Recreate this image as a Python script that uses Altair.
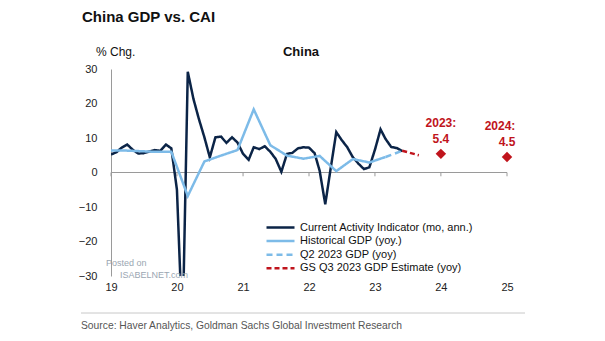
import altair as alt
import pandas as pd

# ---------------- data ----------------
series_names = [
    "Current Activity Indicator (mo, ann.)",
    "Historical GDP (yoy.)",
    "Q2 2023 GDP (yoy)",
    "GS Q3 2023 GDP Estimate (yoy)",
]
series_colors = ["#0b2447", "#7dbbe8", "#7dbbe8", "#c0141c"]
series_dashes = [[1, 0], [1, 0], [6, 4], [5, 3]]

cai_dates = pd.date_range("2019-01-01", "2023-06-01", freq="MS").strftime("%Y-%m-%d").tolist()
cai_values = [
    5.2, 5.9, 7.2, 8.1, 6.6, 5.5, 5.6, 6.1, 6.5, 6.3, 8.1, 7.0,      # 2019
    -5.0, -47.0, 29.2, 21.4, 15.6, 10.2, 4.4, 10.2, 10.4, 8.6, 10.2, 8.7,  # 2020
    5.4, 3.7, 7.3, 6.8, 7.6, 6.0, 3.9, 0.2, 5.4, 5.7, 7.0, 7.3,      # 2021
    7.2, 5.6, 0.5, -9.2, 1.2, 11.7, 9.4, 7.3, 4.4, 2.6, 1.0, 1.5,    # 2022
    6.6, 12.5, 9.7, 7.4, 7.1, 6.2,                                   # 2023
]

gdp_dates = ["2018-12-01", "2019-03-01", "2019-06-01", "2019-09-01", "2019-12-01",
             "2020-03-01", "2020-06-01", "2020-09-01", "2020-12-01",
             "2021-03-01", "2021-06-01", "2021-09-01", "2021-12-01",
             "2022-03-01", "2022-06-01", "2022-09-01", "2022-12-01", "2023-03-01"]
gdp_values = [6.4, 6.4, 6.2, 6.0, 6.0, -6.8, 3.2, 4.9, 6.5, 18.3, 7.9, 4.9, 4.0,
              4.8, 0.4, 3.9, 2.9, 4.5]

q2_dates = ["2023-03-01", "2023-06-01"]
q2_values = [4.5, 6.3]

gs_dates = ["2023-06-01", "2023-09-01"]
gs_values = [6.3, 5.0]

annual_dates = ["2024-01-01", "2025-01-01"]
annual_values = [5.4, 4.5]
annual_years = ["2023:", "2024:"]
annual_labels = ["5.4", "4.5"]

year_ticks = ["2019-01-01", "2020-01-01", "2021-01-01", "2022-01-01",
              "2023-01-01", "2024-01-01", "2025-01-01"]
y_ticks = [-30, -20, -10, 0, 10, 20, 30]

# ---------------- tables ----------------
lines_df = pd.concat([
    pd.DataFrame({"date": cai_dates, "value": cai_values, "series": series_names[0]}),
    pd.DataFrame({"date": gdp_dates, "value": gdp_values, "series": series_names[1]}),
    pd.DataFrame({"date": q2_dates, "value": q2_values, "series": series_names[2]}),
    pd.DataFrame({"date": gs_dates, "value": gs_values, "series": series_names[3]}),
], ignore_index=True)

ann_df = pd.DataFrame({"date": annual_dates, "value": annual_values,
                       "year": annual_years, "label": annual_labels})
ticks_df = pd.DataFrame({"date": year_ticks})

W, H = 396, 207
FONT = "Liberation Sans, Arial, sans-serif"
RED = "#c0141c"

x_scale = alt.Scale(domain=[alt.DateTime(year=2019, month=1, date=1),
                            alt.DateTime(year=2025, month=1, date=1)])
y_scale = alt.Scale(domain=[-30, 30], nice=False, zero=False)

x_axis = alt.Axis(values=[alt.DateTime(year=int(d[:4]), month=1, date=1) for d in year_ticks],
                  format="%y", domain=False, ticks=False, grid=False,
                  labelPadding=5, labelFlush=False, labelOverlap=False,
                  labelFont=FONT, labelFontSize=11, labelColor="#222", title=None)
y_axis = alt.Axis(values=y_ticks, domain=True, domainColor="#9a9a9a",
                  ticks=False, tickSize=0, grid=False, labelPadding=14,
                  labelFlush=False, labelOverlap=False, labelFont=FONT,
                  labelFontSize=11, labelColor="#222", title=None)

legend = alt.Legend(
    orient="none", legendX=163, legendY=152, title=None,
    symbolType="M-2.8,0H2.8", symbolSize=100, symbolStrokeWidth=2.5,
    labelFont=FONT, labelFontSize=11, labelColor="#111",
    labelOffset=13, rowPadding=1.6, padding=0, labelLimit=400,
)

x_enc = alt.X("date:T", scale=x_scale, axis=x_axis)
y_enc = alt.Y("value:Q", scale=y_scale, axis=y_axis)

color_enc = alt.Color("series:N", scale=alt.Scale(domain=series_names, range=series_colors),
                      legend=legend, sort=series_names)
dash_enc = alt.StrokeDash("series:N", scale=alt.Scale(domain=series_names, range=series_dashes),
                          legend=legend, sort=series_names)

base_line = alt.Chart(lines_df).mark_line(clip=True, strokeWidth=2.5, strokeJoin="miter").encode(
    x=x_enc, y=y_enc, color=color_enc, strokeDash=dash_enc)


def series_layer(name):
    return base_line.transform_filter(alt.datum.series == name)


zero_line = alt.Chart(ticks_df).mark_rule(color="#9a9a9a", strokeWidth=1).encode(
    y=alt.YDatum(0, scale=y_scale, axis=y_axis))
tick_marks = alt.Chart(ticks_df).mark_rule(color="#9a9a9a", strokeWidth=1).encode(
    x=x_enc, y=alt.YDatum(0, scale=y_scale, axis=y_axis), y2=alt.datum(-1.1))

diamonds = alt.Chart(ann_df).mark_point(shape="diamond", filled=True, size=110,
                                        color=RED, opacity=1).encode(x=x_enc, y=y_enc)


def year_text(idx, dx):
    return alt.Chart(ann_df).mark_text(font=FONT, fontSize=12, fontWeight="bold",
                                       color=RED, dy=-31, dx=dx).encode(
        x=x_enc, y=y_enc, text="year:N").transform_filter(
        alt.datum.year == annual_years[idx])


val_txt = alt.Chart(ann_df).mark_text(font=FONT, fontSize=12, fontWeight="bold",
                                      color=RED, dy=-15).encode(x=x_enc, y=y_enc, text="label:N")

one = pd.DataFrame({"k": [0]})


def label(text, x, y, size, weight="normal", color="#111", font=FONT, align="left"):
    return alt.Chart(one).mark_text(text=text, font=font, fontSize=size, fontWeight=weight,
                                    color=color, align=align, baseline="middle").encode(
        x=alt.value(x), y=alt.value(y))


title_txt = label("China GDP vs. CAI", -29, -52, 15, "bold", "#111")
panel_txt = label("China", W / 2 - 8, -17, 13, "bold", "#111", FONT, "center")
unit_txt = label("% Chg.", -15, -17, 12, "normal", "#111")
source_txt = label("Source: Haver Analytics, Goldman Sachs Global Investment Research",
                   -30, 257, 10.3, "normal", "#555")
wm1 = label("Posted on", -5, 194, 9, "normal", "#9aa6b2")
wm2 = label("ISABELNET.com", 9, 206, 9, "normal", "#9aa6b2")
sep = alt.Chart(one).mark_rule(color="#c8c8c8", strokeWidth=1).encode(
    x=alt.value(-30), x2=alt.value(414), y=alt.value(244))

chart = alt.layer(
    zero_line, tick_marks,
    series_layer(series_names[0]),
    series_layer(series_names[1]),
    series_layer(series_names[2]),
    series_layer(series_names[3]),
    diamonds, year_text(0, 0), year_text(1, -7), val_txt,
    title_txt, panel_txt, unit_txt, source_txt, wm1, wm2, sep,
).resolve_scale(color="shared", strokeDash="shared").properties(
    width=W, height=H,
    autosize=alt.AutoSizeParams(type="none"),
    padding={"left": 111, "top": 69, "right": 98, "bottom": 65},
    background="white",
).configure_view(stroke=None).configure_axis(labelOverlap=False)

chart.save("out.html", embed_options={"renderer": "svg", "actions": False})
